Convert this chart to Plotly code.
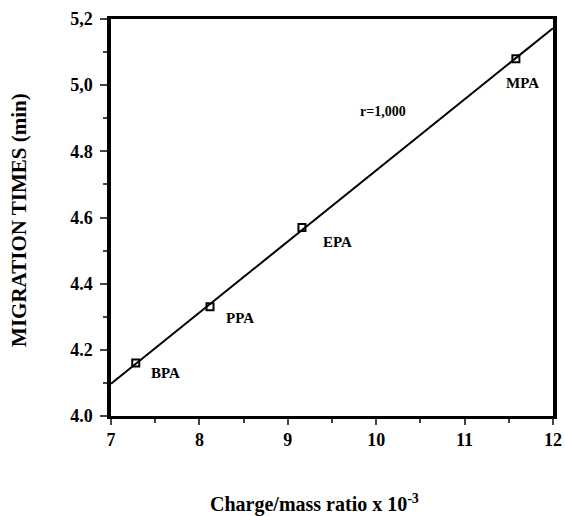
import numpy as np
import plotly.graph_objects as go

compounds = ["BPA", "PPA", "EPA", "MPA"]
charge_mass = [7.28, 8.12, 9.16, 11.58]
migration_time = [4.16, 4.33, 4.57, 5.08]
x_ticks = [7, 8, 9, 10, 11, 12]
y_ticks = [4.0, 4.2, 4.4, 4.6, 4.8, 5.0, 5.2]
y_tick_text = ["4.0", "4.2", "4.4", "4.6", "4.8", "5,0", "5,2"]
r_label = "r=1,000"

slope, intercept = np.polyfit(charge_mass, migration_time, 1)
line_x = [x_ticks[0], x_ticks[-1]]
line_y = [slope * v + intercept for v in line_x]

serif = "Liberation Serif"
fig = go.Figure()
fig.add_trace(go.Scatter(x=line_x, y=line_y, mode="lines",
                         line=dict(color="black", width=2), showlegend=False))
fig.add_trace(go.Scatter(x=charge_mass, y=migration_time, mode="markers",
                         marker=dict(symbol="square-open", size=7, color="black",
                                     line=dict(width=2)), showlegend=False))

label_offsets = {"BPA": (0.34, -0.03), "PPA": (0.34, -0.034), "EPA": (0.40, -0.045), "MPA": (0.07, -0.074)}
for name, xv, yv in zip(compounds, charge_mass, migration_time):
    dx, dy = label_offsets[name]
    fig.add_annotation(x=xv + dx, y=yv + dy, text="<b>" + name + "</b>", showarrow=False,
                       font=dict(family=serif, size=15, color="black"))
fig.add_annotation(x=10.08, y=4.921, text="<b>" + r_label + "</b>", showarrow=False,
                   font=dict(family=serif, size=14, color="black"))

# axis titles
fig.add_annotation(xref="paper", yref="paper", x=0, y=0.494, xshift=-92, textangle=-90,
                   xanchor="center", yanchor="middle",
                   text="<b>MIGRATION TIMES (min)</b>", showarrow=False,
                   font=dict(family=serif, size=21, color="black"))
fig.add_annotation(xref="paper", yref="paper", x=0.46, y=0, yshift=-87,
                   xanchor="center", yanchor="middle",
                   text="<b>Charge/mass ratio x 10<sup>-3</sup></b>", showarrow=False,
                   font=dict(family=serif, size=20, color="black"))

fig.update_layout(
    width=565, height=516, margin=dict(l=111, r=12, t=19, b=100, autoexpand=False),
    plot_bgcolor="white", paper_bgcolor="white",
    xaxis=dict(range=[7, 12], tickvals=x_ticks, ticks="outside", ticklen=6, tickwidth=2,
               showline=True, linewidth=2.5, linecolor="black", mirror=True, showgrid=False,
               zeroline=False, automargin=False,
               tickfont=dict(family=serif, size=18, color="black", weight="bold"),
               minor=dict(ticks="outside", ticklen=4, tickwidth=1.5, dtick=0.5, showgrid=False)),
    yaxis=dict(range=[4.0, 5.2], tickvals=y_ticks, ticktext=y_tick_text,
               ticks="outside", ticklen=7, tickwidth=2, ticklabelstandoff=4,
               showline=True, linewidth=3.5, linecolor="black", mirror=True, showgrid=False,
               zeroline=False, automargin=False,
               tickfont=dict(family=serif, size=18, color="black", weight="bold"),
               minor=dict(ticks="outside", ticklen=4, tickwidth=1.5, dtick=0.1, showgrid=False)),
)
fig.write_html("out.html")
